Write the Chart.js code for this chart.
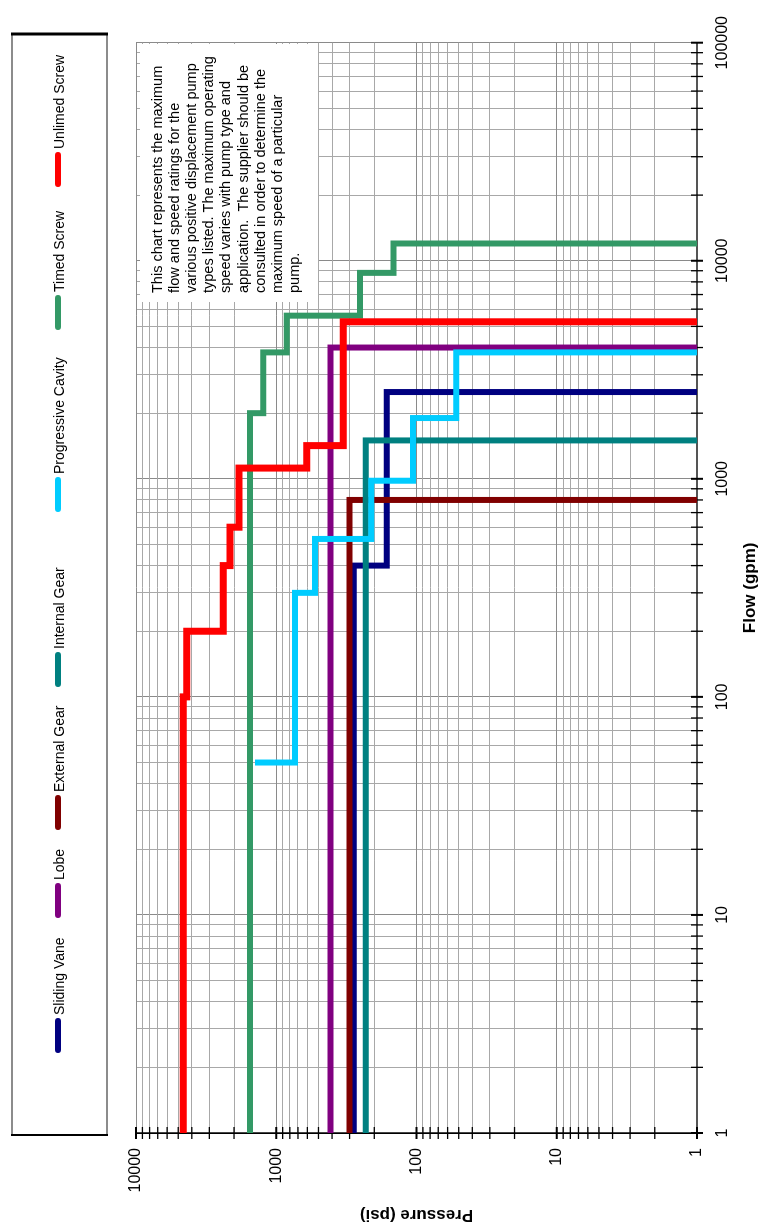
<!DOCTYPE html>
<html><head><meta charset="utf-8">
<script src="https://cdn.jsdelivr.net/npm/chart.js@4.4.0/dist/chart.umd.min.js"></script>
<style>
html,body{margin:0;padding:0;background:#fff;overflow:hidden;width:764px;height:1230px;}
#wrap{position:absolute;left:0;top:0;width:1230px;height:764px;transform-origin:0 0;transform:translate(0px,1230px) rotate(-90deg);background:#fff;}
canvas{display:block;}
</style></head><body>
<div id="wrap"><canvas id="c" width="1230" height="764"></canvas></div>
<script>
// ---- data ----
const seriesNames = ['Sliding Vane','Lobe','External Gear','Internal Gear','Progressive Cavity','Timed Screw','Unlimed Screw'];
const seriesColors = ['#000080','#800080','#800000','#008080','#00ccff','#339966','#ff0000'];

const slidingVaneFlow = [1, 400, 400, 2500, 2500];
const slidingVanePressure = [280, 280, 163, 163, 1];

const lobeFlow = [1, 4000, 4000];
const lobePressure = [410, 410, 1];

const externalGearFlow = [1, 800, 800];
const externalGearPressure = [300, 300, 1];

const internalGearFlow = [1, 1500, 1500];
const internalGearPressure = [230, 230, 1];

const progressiveCavityFlow = [50, 50, 300, 300, 530, 530, 980, 980, 1900, 1900, 3800, 3800];
const progressiveCavityPressure = [1420, 735, 735, 530, 530, 210, 210, 106, 106, 52, 52, 1];

const timedScrewFlow = [1, 2000, 2000, 3800, 3800, 5600, 5600, 8800, 8800, 12000, 12000];
const timedScrewPressure = [1540, 1540, 1240, 1240, 840, 840, 253, 253, 146, 146, 1];

const unlimedScrewFlow = [1, 100, 100, 200, 200, 400, 400, 600, 600, 1120, 1120, 1420, 1420, 5250, 5250];
const unlimedScrewPressure = [4600, 4600, 4350, 4350, 2390, 2390, 2140, 2140, 1845, 1845, 607, 607, 333, 333, 1];

const flowTickLabels = [1, 10, 100, 1000, 10000, 100000];
const pressureTickLabels = [1, 10, 100, 1000, 10000];

const noteLines = [
  'This chart represents the maximum',
  'flow and speed ratings for the',
  'various positive displacement pump',
  'types listed. The maximum operating',
  'speed varies with pump type and',
  'application.  The supplier should be',
  'consulted in order to determine the',
  'maximum speed of a particular',
  'pump.'
];

// ---- build ----
const FONT = '"Liberation Sans", Arial, Helvetica, sans-serif';
Chart.defaults.font.family = FONT;

const flows = [slidingVaneFlow, lobeFlow, externalGearFlow, internalGearFlow, progressiveCavityFlow, timedScrewFlow, unlimedScrewFlow];
const pressures = [slidingVanePressure, lobePressure, externalGearPressure, internalGearPressure, progressiveCavityPressure, timedScrewPressure, unlimedScrewPressure];

const datasets = seriesNames.map((name, i) => ({
  label: name,
  data: flows[i].map((f, j) => ({x: f, y: pressures[i][j]})),
  borderColor: seriesColors[i],
  backgroundColor: seriesColors[i],
  borderWidth: i === 6 ? 7 : 6,
  showLine: true,
  pointRadius: 0,
  fill: false,
  tension: 0,
  borderJoinStyle: 'miter',
  borderCapStyle: 'butt',
  order: seriesNames.length - i
}));

function gridTicks(labels) {
  const out = [];
  for (let k = 0; k < labels.length - 1; k++) {
    for (let m = 1; m < 10; m++) out.push({value: labels[k] * m});
  }
  out.push({value: labels[labels.length - 1]});
  return out;
}

const legendStarts = [177, 312, 400, 543, 718, 900, 1043];

const decor = {
  id: 'decor',
  beforeDatasetsDraw(chart) {
    const ctx = chart.ctx, a = chart.chartArea;
    const xs = chart.scales.x, ys = chart.scales.y;
    ctx.save();
    // note box
    ctx.fillStyle = '#ffffff';
    ctx.fillRect(928, 140, 258, 178);
    ctx.fillStyle = '#000';
    ctx.font = '14.5px ' + FONT;
    ctx.textAlign = 'left';
    ctx.textBaseline = 'middle';
    noteLines.forEach((l, i) => ctx.fillText(l, 937, 158 + i * 17.1));
    // cross ticks
    ctx.strokeStyle = '#000';
    xs.ticks.forEach(t => {
      const px = xs.getPixelForValue(t.value);
      ctx.lineWidth = flowTickLabels.includes(t.value) ? 2 : 1.3;
      ctx.beginPath(); ctx.moveTo(px, a.bottom - 6); ctx.lineTo(px, a.bottom + 6); ctx.stroke();
    });
    ys.ticks.forEach(t => {
      const py = ys.getPixelForValue(t.value);
      ctx.lineWidth = pressureTickLabels.includes(t.value) ? 2 : 1.3;
      ctx.beginPath(); ctx.moveTo(a.left - 6, py); ctx.lineTo(a.left + 6, py); ctx.stroke();
    });
    ctx.restore();
  },
  afterDraw(chart) {
    const ctx = chart.ctx;
    ctx.save();
    // legend frame
    ctx.strokeStyle = '#8c8c8c';
    ctx.lineWidth = 2;
    ctx.strokeRect(95, 12, 1101, 95);
    ctx.strokeStyle = '#000';
    ctx.lineWidth = 3;
    ctx.beginPath(); ctx.moveTo(1196, 11); ctx.lineTo(1196, 108); ctx.stroke();
    ctx.lineWidth = 2;
    ctx.beginPath(); ctx.moveTo(95, 11); ctx.lineTo(95, 108); ctx.stroke();
    // items
    ctx.font = '14px ' + FONT;
    ctx.textAlign = 'left';
    ctx.textBaseline = 'middle';
    chart.data.datasets.forEach((ds, i) => {
      const x0 = legendStarts[i];
      ctx.strokeStyle = ds.borderColor;
      ctx.lineWidth = 6;
      ctx.lineCap = 'round';
      ctx.beginPath(); ctx.moveTo(x0 + 3, 58); ctx.lineTo(x0 + 32, 58); ctx.stroke();
      ctx.fillStyle = '#000';
      ctx.fillText(ds.label, x0 + 38, 60);
    });
    ctx.restore();
  }
};

new Chart(document.getElementById('c'), {
  type: 'scatter',
  data: {datasets},
  plugins: [decor],
  options: {
    responsive: false,
    animation: false,
    devicePixelRatio: 1,
    layout: {padding: {top: 136, right: 35, bottom: 0, left: 0}},
    plugins: {legend: {display: false}, tooltip: {enabled: false}},
    scales: {
      x: {
        type: 'logarithmic',
        position: 'bottom',
        min: 1, max: 100000,
        afterBuildTicks: s => { s.ticks = gridTicks(flowTickLabels); },
        afterFit: s => { s.height = 67; },
        ticks: {
          autoSkip: false, maxRotation: 0, minRotation: 0,
          padding: 16, color: '#000', font: {size: 16},
          callback: v => flowTickLabels.includes(v) ? String(v) : ''
        },
        grid: {
          drawTicks: false,
          color: c => (c.tick && flowTickLabels.includes(c.tick.value)) ? '#8a8a8a' : '#a8a8a8',
          lineWidth: 1
        },
        border: {display: true, color: '#555', width: 2},
        title: {display: true, text: 'Flow (gpm)', color: '#000', font: {size: 17, weight: 'bold'}, padding: {top: 0, bottom: 3}}
      },
      y: {
        type: 'logarithmic',
        position: 'left',
        min: 1, max: 10000,
        afterBuildTicks: s => { s.ticks = gridTicks(pressureTickLabels); },
        afterFit: s => { s.width = 97; },
        ticks: {
          autoSkip: false,
          padding: 15, color: '#000', font: {size: 16},
          callback: v => pressureTickLabels.includes(v) ? String(v) : ''
        },
        grid: {
          drawTicks: false,
          color: c => (c.tick && pressureTickLabels.includes(c.tick.value)) ? '#8a8a8a' : '#a8a8a8',
          lineWidth: 1
        },
        border: {display: true, color: '#000', width: 1.5},
        title: {display: true, text: 'Pressure (psi)', color: '#000', font: {size: 17, weight: 'bold'}, padding: {top: 5, bottom: 0}}
      }
    }
  }
});
</script>
</body></html>
